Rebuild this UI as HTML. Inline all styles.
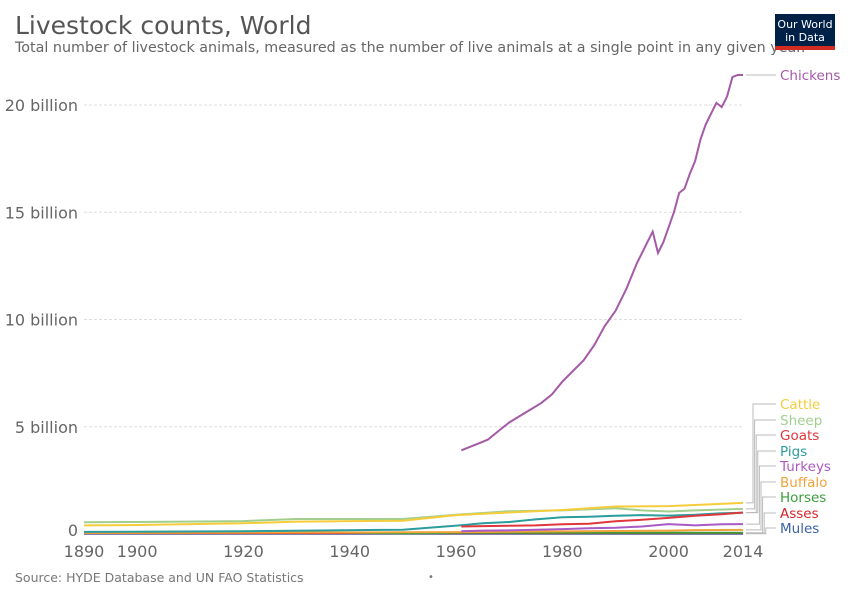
<!DOCTYPE html>
<html><head><meta charset="utf-8"><style>
body{margin:0;background:#fff;font-family:"Liberation Sans","DejaVu Sans",sans-serif;}
svg text{font-family:"DejaVu Sans","Liberation Sans",sans-serif;}
</style></head><body>
<svg id="c" width="850" height="600" xmlns="http://www.w3.org/2000/svg">
<text x="15" y="34" font-size="25" fill="#555">Livestock counts, World</text>
<text x="15" y="52" font-size="14.3" fill="#666">Total number of livestock animals, measured as the number of live animals at a single point in any given year.</text>
<g><rect x="775" y="14" width="60" height="36" fill="#002147"/><rect x="775" y="46" width="60" height="4" fill="#d42b21"/>
<text x="805" y="28" font-size="11" fill="#fff" text-anchor="middle">Our World</text><text x="805" y="41" font-size="11" fill="#fff" text-anchor="middle">in Data</text></g>
<text x="15" y="582" font-size="12.5" fill="#777">Source: HYDE Database and UN FAO Statistics</text>
<text x="428" y="580" font-size="10" fill="#777">•</text>
<g id="grid"></g><g id="lines"></g><g id="legend"></g>
</svg>
<script>
const yTicks=[0,5,10,15,20];
const xTicks=[1890,1900,1920,1940,1960,1980,2000,2014];
const seriesNames=["Cattle","Sheep","Goats","Pigs","Turkeys","Buffalo","Horses","Asses","Mules","Chickens"];
const seriesColors=["#f5cd3c","#a2cf8d","#e0373d","#2a9d9c","#a85bc4","#f2a23a","#3b9e3b","#d8232a","#3b62a8","#a45aa6"];
const cattleYears=[1890,1900,1920,1930,1950,1960,1970,1980,1990,2000,2005,2014];
const cattleVals=[0.4,0.42,0.5,0.58,0.62,0.88,1.0,1.12,1.28,1.3,1.35,1.45];
const sheepYears=[1890,1900,1920,1930,1950,1960,1970,1980,1990,1995,2000,2005,2014];
const sheepVals=[0.55,0.56,0.6,0.7,0.7,0.9,1.06,1.1,1.2,1.1,1.05,1.1,1.17];
const goatsYears=[1961,1965,1970,1975,1980,1985,1990,1995,2000,2005,2010,2014];
const goatsVals=[0.35,0.37,0.38,0.4,0.45,0.48,0.59,0.66,0.75,0.85,0.92,1.0];
const pigsYears=[1890,1920,1950,1961,1965,1970,1975,1980,1985,1990,1995,2000,2005,2010,2014];
const pigsVals=[0.1,0.13,0.2,0.41,0.5,0.56,0.68,0.78,0.8,0.85,0.88,0.86,0.9,0.97,0.99];
const turkeysYears=[1961,1965,1970,1975,1980,1985,1990,1995,2000,2005,2010,2014];
const turkeysVals=[0.13,0.16,0.17,0.2,0.23,0.27,0.29,0.35,0.46,0.4,0.45,0.46];
const buffaloYears=[1890,1950,1961,1980,2000,2005,2014];
const buffaloVals=[0.05,0.08,0.09,0.12,0.16,0.18,0.19];
const horsesYears=[1890,1930,1950,1961,2014];
const horsesVals=[0.06,0.1,0.03,0.06,0.06];
const assesYears=[1890,1961,2014];
const assesVals=[0.04,0.04,0.04];
const mulesYears=[1890,1961,2014];
const mulesVals=[0.01,0.01,0.01];
const chickensYears=[1961,1963,1965,1966,1968,1970,1972,1974,1976,1978,1980,1982,1984,1986,1988,1990,1992,1994,1996,1997,1998,1999,2000,2001,2002,2003,2004,2005,2006,2007,2008,2009,2010,2011,2012,2013,2014];
const chickensVals=[3.9,4.1,4.3,4.4,4.8,5.2,5.5,5.8,6.1,6.5,7.1,7.6,8.1,8.8,9.7,10.4,11.4,12.6,13.6,14.1,13.1,13.6,14.3,15.0,15.9,16.1,16.8,17.4,18.4,19.1,19.6,20.1,19.9,20.4,21.3,21.4,21.4];
const years=[cattleYears,sheepYears,goatsYears,pigsYears,turkeysYears,buffaloYears,horsesYears,assesYears,mulesYears,chickensYears];
const vals=[cattleVals,sheepVals,goatsVals,pigsVals,turkeysVals,buffaloVals,horsesVals,assesVals,mulesVals,chickensVals];
const X=y=>84+(y-1890)/(2014-1890)*659;
const Y=v=>534-v*21.45;
const NS="http://www.w3.org/2000/svg";
function mk(t,a,p){const e=document.createElementNS(NS,t);for(const k in a)e.setAttribute(k,a[k]);p.appendChild(e);return e;}
const g=document.getElementById('grid');
yTicks.forEach(t=>{
 if(t>0){const l=mk('line',{x1:84,x2:743,y1:Y(t),y2:Y(t),stroke:'#ddd','stroke-dasharray':'3,2'},g);
 
 }
 const tx=mk('text',{x:78,y:Y(t)+(t?6:2),'font-size':16,fill:'#666','text-anchor':'end'},g);tx.textContent=t?t+' billion':'0';
 
 
});
xTicks.forEach(t=>{const tx=mk('text',{x:X(t),y:557,'font-size':16,fill:'#666','text-anchor':'middle'},g);tx.textContent=t;
 
 });
const L=document.getElementById('lines');
for(let i=seriesNames.length-1;i>=0;i--){
 const d=years[i].map((y,j)=>(j?'L':'M')+X(y).toFixed(1)+','+Y(vals[i][j]).toFixed(1)).join('');
 const p=mk('path',{d:d,fill:'none',stroke:seriesColors[i],'stroke-width':2},L);
 
 
}
const lg=document.getElementById('legend');
const labelY=[404,420,435,451,466,482,497,513,528];
for(let i=0;i<9;i++){
 const vy=Y(vals[i][vals[i].length-1]);const bx=753+i*1.6;
 mk('path',{d:`M746,${vy}H${bx}V${labelY[i]}H776`,fill:'none',stroke:'#bbb','stroke-width':1},lg);
 const t=mk('text',{x:780,y:labelY[i]+5,'font-size':13.5,fill:seriesColors[i]},lg);t.textContent=seriesNames[i];
 
 
}
const cy=Y(21.4);
mk('path',{d:`M746,${cy}H776`,stroke:'#bbb',fill:'none'},lg);
const ct=mk('text',{x:780,y:cy+5,'font-size':13.5,fill:'#a45aa6'},lg);ct.textContent='Chickens';


</script>
</body></html>
